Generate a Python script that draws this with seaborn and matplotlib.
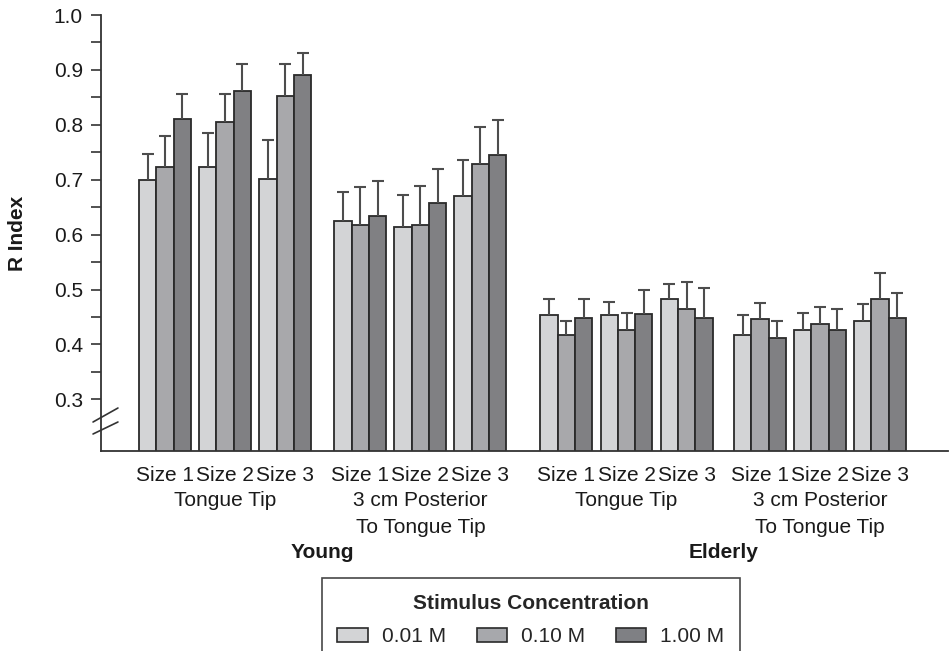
import numpy as np
import pandas as pd
import matplotlib
matplotlib.use("Agg")
import matplotlib.pyplot as plt
from matplotlib.patches import Patch
import seaborn as sns

# ---------------- data ----------------
ages = ["Young", "Elderly"]
regions = ["Tongue Tip", "3 cm Posterior\nTo Tongue Tip"]
sizes = ["Size 1", "Size 2", "Size 3"]
concentrations = ["0.01 M", "0.10 M", "1.00 M"]

# R index means, order: age -> region -> size
r_001 = [0.700, 0.723, 0.702, 0.624, 0.614, 0.671, 0.453, 0.453, 0.482, 0.418, 0.426, 0.443]
r_010 = [0.724, 0.805, 0.853, 0.617, 0.618, 0.729, 0.417, 0.427, 0.465, 0.446, 0.438, 0.482]
r_100 = [0.810, 0.862, 0.890, 0.634, 0.658, 0.745, 0.448, 0.455, 0.449, 0.412, 0.426, 0.449]
# upper error (SE) lengths
e_001 = [0.046, 0.063, 0.071, 0.054, 0.058, 0.065, 0.030, 0.025, 0.028, 0.036, 0.031, 0.031]
e_010 = [0.055, 0.052, 0.058, 0.069, 0.071, 0.067, 0.026, 0.031, 0.049, 0.030, 0.031, 0.048]
e_100 = [0.047, 0.048, 0.041, 0.063, 0.062, 0.063, 0.035, 0.044, 0.054, 0.030, 0.038, 0.045]

y_ticks = [0.3, 0.4, 0.5, 0.6, 0.7, 0.8, 0.9, 1.0]

# ---------------- layout ----------------
gaps = [1, 1, 1.25, 1, 1, 1.43, 1, 1, 1.22, 1, 1]
positions = np.concatenate([[0.0], np.cumsum(gaps)])
colors = {"0.01 M": "#d3d4d6", "0.10 M": "#a7a8ac", "1.00 M": "#7f8084"}
edge = "#2a2a2a"
err_col = "#4d4d4d"
FS = 15

rows = []
for vals, errs, c in zip([r_001, r_010, r_100], [e_001, e_010, e_100], concentrations):
    for p, v, e in zip(positions, vals, errs):
        rows.append({"pos": p, "conc": c, "r": v, "err": e})
df = pd.DataFrame(rows)

sns.set_theme(style="ticks")
plt.rcParams["font.family"] = ["Liberation Sans", "DejaVu Sans"]

fig = plt.figure(figsize=(9.49, 6.51), dpi=100)
ax = fig.add_axes([101 / 949, 1 - 451 / 651, 847 / 949, 436 / 651])

bar_w = 0.865
sns.barplot(data=df, x="pos", y="r", hue="conc", hue_order=concentrations,
            palette=colors, native_scale=True, width=bar_w, errorbar=None,
            edgecolor=edge, linewidth=1.3, legend=False, ax=ax, zorder=2)

# error bars (upper only) placed from the drawn bars
xs, tops, ups = [], [], []
for bar in ax.patches:
    cx = bar.get_x() + bar.get_width() / 2
    gi = int(np.argmin(np.abs(positions - cx)))
    hi = int(round((cx - positions[gi]) / (bar_w / 3))) + 1
    conc = concentrations[hi]
    e = df[(df["conc"] == conc) & (np.isclose(df["pos"], positions[gi]))]["err"].iloc[0]
    xs.append(cx)
    tops.append(bar.get_height())
    ups.append(bar.get_height() + e)
ax.vlines(xs, tops, ups, colors=err_col, lw=1.5, zorder=3)
ax.plot(xs, ups, ls="none", marker="_", ms=9, mew=1.5, color=err_col, zorder=3)

# axes styling
ax.set_xlim(-1.065, 13.03)
ax.set_ylim(0.206, 1.0)
ax.set_yticks(y_ticks, labels=[f"{t:.1f}" for t in y_ticks])
ax.set_yticks([t + 0.05 for t in y_ticks[:-1]], minor=True)
ax.tick_params(axis="y", which="both", length=7, width=1.2, color="#333333",
               labelsize=FS, pad=6, labelcolor="#1a1a1a")
ax.set_xticks(positions, labels=sizes * 4)
ax.tick_params(axis="x", length=0, labelsize=FS, pad=11, labelcolor="#1a1a1a")
for s in ["top", "right"]:
    ax.spines[s].set_visible(False)
for s in ["left", "bottom"]:
    ax.spines[s].set_color("#333333")
    ax.spines[s].set_linewidth(1.3)
ax.set_xlabel("")
ax.set_ylabel("R Index", fontsize=FS, fontweight="bold", color="#1a1a1a")
ax.yaxis.set_label_coords(-0.087, 0.5)
ax.grid(False)

# axis break marks
for y0, y1 in [(0.0665, 0.0986), (0.039, 0.0665)]:
    ax.plot([-0.0094, 0.020], [y0, y1], transform=ax.transAxes, color="#333333",
            lw=1.2, clip_on=False, zorder=4)

# region labels
for k, reg in enumerate(regions * 2):
    cx = positions[3 * k:3 * k + 3].mean()
    ax.annotate(reg, xy=(cx, 0), xycoords=("data", "axes fraction"),
                xytext=(0, -28.5), textcoords="offset points", ha="center", va="top",
                fontsize=FS, linespacing=1.55, color="#1a1a1a")
# age labels
for k, age in enumerate(ages):
    cx = positions[6 * k:6 * k + 6].mean()
    ax.annotate(age, xy=(cx, 0), xycoords=("data", "axes fraction"),
                xytext=(0, -66.5), textcoords="offset points", ha="center", va="top",
                fontsize=FS, fontweight="bold", color="#1a1a1a")

# legend
handles = [Patch(facecolor=colors[c], edgecolor=edge, linewidth=1.2) for c in concentrations]
leg = fig.legend(handles, concentrations, ncol=3, loc="upper center",
                 bbox_to_anchor=(531 / 949, 1 - 578 / 651), frameon=True, fancybox=False,
                 edgecolor="#1a1a1a", title="Stimulus Concentration",
                 title_fontproperties={"weight": "bold", "size": FS},
                 fontsize=FS, handlelength=1.45, handleheight=0.68, handletextpad=0.7,
                 columnspacing=1.45, borderpad=0.75, labelspacing=0.7, borderaxespad=0)
leg.get_frame().set_linewidth(1.2)
leg.get_frame().set_facecolor("white")

fig.savefig("out.png", dpi=100, facecolor="white")
